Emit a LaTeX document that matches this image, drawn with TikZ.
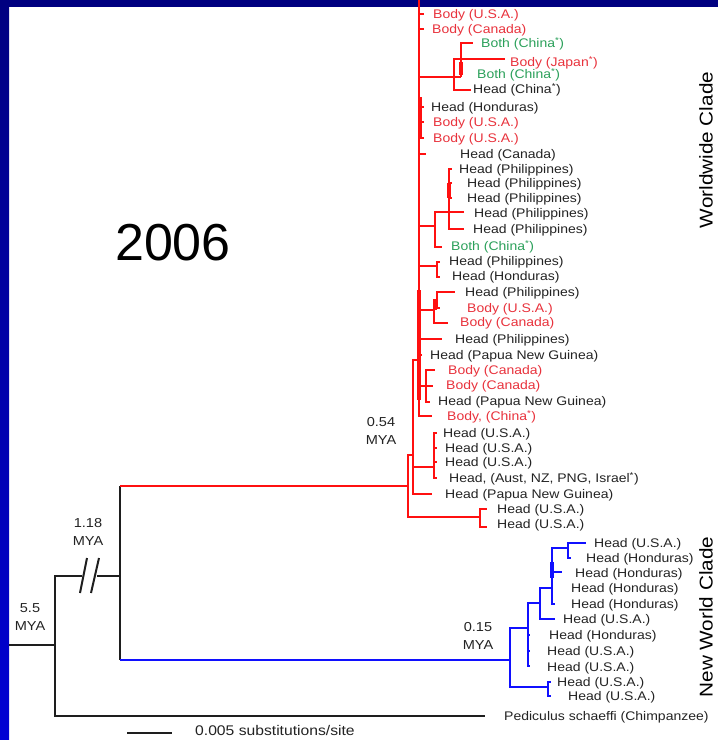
\documentclass[tikz,border=0pt]{standalone}
\usepackage{fontspec}
\setmainfont[FakeStretch=1.12]{Liberation Sans}
\newfontfamily\yearfont{Liberation Sans}
\definecolor{navytop}{HTML}{000080}
\definecolor{navybot}{HTML}{0000D4}
\definecolor{redbranch}{HTML}{FF1010}
\definecolor{bluebranch}{HTML}{1010FF}
\definecolor{blackbranch}{HTML}{1E1E1E}
\definecolor{bodyred}{HTML}{E8323C}
\definecolor{bothgreen}{HTML}{2BA05A}
\definecolor{headgray}{HTML}{232323}
\tikzset{
  branch/.style={line width=2pt},
  redbr/.style={branch, draw=redbranch},
  bluebr/.style={branch, draw=bluebranch},
  blackbr/.style={branch, draw=blackbranch},
  fatbr/.style={redbr, line width=3.6pt},
  leaf/.style={anchor=base west, inner sep=0pt, font=\fontsize{12.5}{14}\selectfont},
  age/.style={align=center, inner sep=0pt, text=headgray,
              font=\fontsize{13}{18.5}\selectfont},
  clade/.style={rotate=90, inner sep=0pt, text=black, font=\fontsize{18.5}{20}\selectfont}
}
\newcommand{\sstar}{\textsuperscript{*}}

\begin{document}
\begin{tikzpicture}[x=1pt, y=-1pt]
\useasboundingbox (0,0) rectangle (718,740);
\clip (0,0) rectangle (718,740);

%% Slide frame
\fill[navytop] (0,0) rectangle (718,7);
\shade[top color=navytop, bottom color=navybot] (0,0) rectangle (9,740);

%% Year
\node[font=\yearfont\fontsize{52}{56}\selectfont] (year) at (173,243) {2006};

%% Root and outgroup
\coordinate (stem)  at (9,645);
\coordinate (root)  at (55,645);
\coordinate (brkL)  at (82,576);
\coordinate (brkR)  at (97,576);
\coordinate (split) at (120,576);
\coordinate (chimp) at (485,716);
\coordinate (w0)    at (408,486);
\coordinate (n0)    at (510,660);

\draw[blackbr] (stem) -- (root);
\draw[blackbr] (root) |- (brkL);
\draw[blackbr] (brkR) -- (split);
\draw[blackbr] (root) |- (chimp);
\draw[blackbr] (split |- w0) -- (split |- n0);
\draw[redbr]   (split |- w0) -- (w0);
\draw[bluebr]  (split |- n0) -- (n0);
% break marks on the long branch
\draw[blackbr] (80,593) -- (87,558);
\draw[blackbr] (91,593) -- (99,558);

%% Worldwide clade
\coordinate (wtop) at (419,0);
\coordinate (w1) at (480,517);
\coordinate (w2) at (413,455);
\coordinate (w3) at (434,467);
\coordinate (wt) at (419,360);
\coordinate (wa) at (454,77);
\coordinate (wb) at (461,77);
\coordinate (wd) at (435,226);
\coordinate (we) at (449,212);
\coordinate (wp) at (437,266);
\coordinate (wf) at (434,310);
\coordinate (wg) at (437,300);
\coordinate (wh) at (426,386);

\draw[redbr] (wt) -- (wtop);
\foreach \p/\c in {w0/w1, w0/w2, w2/w3, w2/wt, wt/wa, wa/wb, wt/wd,
                   wd/we, wt/wp, wt/wf, wf/wg, wt/wh}
  \draw[redbr] (\p) |- (\c);
\foreach \p/\x/\y [count=\i] in {
    w1/487/509, w1/487/527, w2/432/494,
    w3/437/433, w3/437/448, w3/437/462, w3/437/478,
    wt/424/14, wt/424/29, wt/424/107, wt/424/122, wt/424/138, wt/426/154,
    wt/442/339, wt/422/355, wt/432/416,
    wa/505/59, wa/471/90, wb/473/43, wd/442/247,
    we/452/169, we/452/183, we/452/198, we/464/212, we/464/229,
    wp/440/262, wp/440/277, wg/455/292, wg/440/308, wf/448/323,
    wh/435/370, wh/433/386, wh/430/402} {
  \coordinate (wtip\i) at (\x,\y);
  \draw[redbr] (\p) |- (wtip\i);
}
% near-zero branches pile up on the trunk
\draw[fatbr] (420,97) -- (420,137);
\draw[fatbr] (419,290) -- (419,400);
\draw[fatbr] (449,183) -- (449,198);
\draw[fatbr] (435,300) -- (435,310);
\draw[fatbr] (461,62) -- (461,75);

%% New World clade
\coordinate (n1) at (528,628);
\coordinate (n2) at (548,687);
\coordinate (n3) at (540,603);
\coordinate (n4) at (552,588);
\coordinate (n5) at (568,548);

\foreach \p/\c in {n0/n1, n0/n2, n1/n3, n3/n4, n4/n5}
  \draw[bluebr] (\p) |- (\c);
\foreach \p/\x/\y [count=\i] in {
    n5/586/543, n5/571/558, n4/562/572, n4/555/604, n3/555/619,
    n1/530/635, n1/530/651, n1/530/666, n2/551/682, n2/551/696} {
  \coordinate (ntip\i) at (\x,\y);
  \draw[bluebr] (\p) |- (ntip\i);
}
\draw[bluebr, line width=3.4pt] (552,562) -- (552,578);

%% Leaf labels
\foreach \y/\x/\col/\lab [count=\i] in {
    14/433/bodyred/{Body (U.S.A.)},
    29/432/bodyred/{Body (Canada)},
    43/481/bothgreen/{Both (China\sstar)},
    62/510/bodyred/{Body (Japan\sstar)},
    74/477/bothgreen/{Both (China\sstar)},
    89/473/headgray/{Head (China\sstar)},
    107/431/headgray/{Head (Honduras)},
    122/433/bodyred/{Body (U.S.A.)},
    138/433/bodyred/{Body (U.S.A.)},
    154/460/headgray/{Head (Canada)},
    169/459/headgray/{Head (Philippines)},
    183/467/headgray/{Head (Philippines)},
    198/467/headgray/{Head (Philippines)},
    213/474/headgray/{Head (Philippines)},
    229/473/headgray/{Head (Philippines)},
    246/451/bothgreen/{Both (China\sstar)},
    261/449/headgray/{Head (Philippines)},
    276/452/headgray/{Head (Honduras)},
    292/465/headgray/{Head (Philippines)},
    308/467/bodyred/{Body (U.S.A.)},
    322/460/bodyred/{Body (Canada)},
    339/455/headgray/{Head (Philippines)},
    355/430/headgray/{Head (Papua New Guinea)},
    370/448/bodyred/{Body (Canada)},
    385/446/bodyred/{Body (Canada)},
    401/438/headgray/{Head (Papua New Guinea)},
    416/447/bodyred/{Body, (China\sstar)},
    433/443/headgray/{Head (U.S.A.)},
    448/445/headgray/{Head (U.S.A.)},
    462/445/headgray/{Head (U.S.A.)},
    478/449/headgray/{Head, (Aust, NZ, PNG, Israel\sstar)},
    494/445/headgray/{Head (Papua New Guinea)},
    509/497/headgray/{Head (U.S.A.)},
    524/497/headgray/{Head (U.S.A.)},
    543/594/headgray/{Head (U.S.A.)},
    558/586/headgray/{Head (Honduras)},
    573/575/headgray/{Head (Honduras)},
    588/571/headgray/{Head (Honduras)},
    604/571/headgray/{Head (Honduras)},
    619/563/headgray/{Head (U.S.A.)},
    635/549/headgray/{Head (Honduras)},
    651/547/headgray/{Head (U.S.A.)},
    667/547/headgray/{Head (U.S.A.)},
    682/557/headgray/{Head (U.S.A.)},
    696/568/headgray/{Head (U.S.A.)},
    716/504/headgray/{Pediculus schaeffi (Chimpanzee)}} {
  \node[leaf, text=\col] (leaf\i) at (\x,\y+4.5) {\lab};
}

%% Dates
\node[age] (a054) at (381,431) {0.54\\MYA};
\node[age] (a118) at (88,532)  {1.18\\MYA};
\node[age] (a55)  at (30,617)  {5.5\\MYA};
\node[age] (a015) at (478,636) {0.15\\MYA};

%% Clade names
\node[clade] (worldwide) at (706,150) {Worldwide Clade};
\node[clade] (newworld)  at (706,617) {New World Clade};

%% Scale bar
\coordinate (barL) at (127,732.5);
\coordinate (barR) at (172,732.5);
\draw[blackbr] (barL) -- (barR);
\node[leaf, text=headgray, font=\fontsize{14}{16}\selectfont] (barlab) at (195,735.5) {0.005 substitutions/site};

\end{tikzpicture}
\end{document}
